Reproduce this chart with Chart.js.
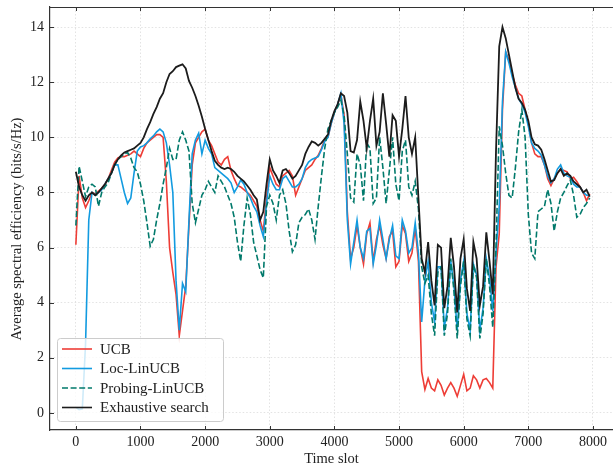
<!DOCTYPE html>
<html>
<head>
<meta charset="utf-8">
<script src="https://cdn.jsdelivr.net/npm/chart.js@4.4.1/dist/chart.umd.min.js"></script>
<style>
  html, body { margin: 0; padding: 0; background: #fff; overflow: hidden; }
  canvas { display: block; }
</style>
</head>
<body>
<canvas id="se-chart" width="613" height="469"></canvas>
<script>
// time slots sampled every 50 slots
const timeSlots = Array.from({ length: 160 }, (_, i) => i * 50);

const xTicks = [0, 1000, 2000, 3000, 4000, 5000, 6000, 7000, 8000];
const yTicks = [0, 2, 4, 6, 8, 10, 12, 14];

const ucb = [
    6.1, 8.6, 7.8, 7.45, 7.7, 8.0, 7.95, 8.05, 8.15, 8.3,
    8.5, 8.8, 9.1, 9.25, 9.3, 9.3, 9.35, 9.4, 9.5, 9.4,
    9.3, 9.6, 9.8, 9.9, 10.0, 10.1, 10.1, 10.0, 8.4, 6.0,
    5.1, 4.3, 2.8, 3.7, 4.6, 6.8, 9.0, 9.8, 10.0, 10.2,
    10.3, 9.9, 9.7, 9.4, 9.1, 9.0, 9.2, 9.3, 8.8, 8.5,
    8.25, 8.2, 8.1, 8.0, 7.9, 7.7, 7.5, 7.0, 6.6, 7.8,
    8.9, 8.6, 8.3, 8.2, 8.6, 8.7, 8.8, 8.6, 7.9, 8.2,
    8.5, 8.8, 8.9, 9.0, 9.2, 9.35, 9.6, 9.9, 10.0, 10.5,
    10.9, 11.2, 11.55, 10.8, 7.3, 5.6, 6.0, 6.8, 6.0, 5.4,
    6.5, 6.9, 5.5, 6.3, 6.8, 6.1, 5.6, 6.4, 6.6, 5.3,
    5.5, 6.8, 6.5, 5.5, 5.8, 6.7, 5.5, 1.5, 0.85, 1.25,
    0.9, 0.8, 1.2, 1.0, 0.65, 0.9, 1.1, 0.9, 0.6, 1.0,
    1.4, 0.8, 0.9, 1.35, 1.2, 0.9, 1.2, 1.25, 1.1, 0.9,
    5.3, 6.5, 11.0, 13.1, 12.8, 12.3, 11.9, 11.6, 11.5, 11.0,
    10.5, 9.8, 9.4, 9.3, 9.3, 9.0, 8.5, 8.25, 8.5, 8.7,
    8.85, 8.8, 8.75, 8.5, 8.55, 8.4, 8.2, 8.0, 7.7, 7.95
];

const locLinUcb = [
    0.2, 0.12, 0.15, 2.5, 7.0, 8.0, 7.9, 8.0, 8.1, 8.3,
    8.5, 8.7, 9.0, 9.0, 8.5, 8.0, 7.6, 7.8, 8.7, 9.5,
    9.65, 9.7, 9.8, 9.95, 10.05, 10.2, 10.3, 10.2, 9.8, 9.0,
    8.0, 4.8, 3.0, 4.7, 4.4, 7.0, 9.4, 9.9, 10.15, 9.4,
    9.9, 9.6, 9.4, 8.9, 8.8, 8.7, 8.6, 8.5, 8.35, 8.0,
    8.2, 8.45, 8.3, 8.0, 7.8, 7.5, 7.3, 6.8, 6.4, 7.6,
    8.6, 8.3, 8.1, 8.1, 8.5, 8.6, 8.4, 8.2, 8.2, 8.3,
    8.5, 8.9, 9.1, 9.2, 9.25, 9.3, 9.55, 9.85, 10.0, 10.5,
    10.9, 11.2, 11.6, 10.5, 7.0, 5.4, 6.2, 7.0, 6.0, 5.6,
    6.6, 6.7, 5.4, 6.1, 7.0, 6.3, 5.6, 6.3, 6.8, 5.7,
    5.6, 7.0, 6.6, 5.8, 6.0, 6.9, 5.8, 3.3, 4.8, 5.5,
    4.0, 3.3, 5.3, 5.3, 3.1, 3.8, 5.5, 4.6, 3.0, 4.8,
    5.5, 3.6, 3.0, 5.4, 5.0, 3.0, 3.8, 5.6, 4.9, 3.7,
    5.8, 7.5, 11.3, 13.1, 12.7, 12.2, 11.8, 11.4, 11.2, 10.9,
    10.4, 9.8, 9.6, 9.5, 9.35, 9.0, 8.6, 8.35, 8.5, 8.85,
    9.0, 8.7, 8.6, 8.55, 8.3, 8.2, 8.2, 8.0, 7.9, 7.9
];

const probingLinUcb = [
    6.8, 8.95, 8.4, 7.85, 8.2, 8.3, 8.2, 7.5, 8.0, 8.2,
    8.36, 8.7, 9.0, 9.2, 9.3, 9.4, 9.45, 9.25, 8.9, 8.75,
    8.3, 7.7, 6.9, 6.05, 6.3, 7.0, 7.6, 8.3, 8.9, 9.6,
    9.2, 9.2, 9.9, 10.2, 9.9, 9.5, 7.6, 6.9, 7.4, 7.9,
    8.1, 8.4, 8.2, 8.0, 8.6, 8.4, 8.2, 7.9, 7.6, 7.1,
    6.2, 5.5, 6.8, 7.8, 7.2, 6.2, 5.7, 5.2, 4.9, 7.5,
    7.9, 7.6, 7.0, 7.9, 8.1, 7.6, 6.6, 5.85, 6.1, 6.9,
    7.1, 7.2, 7.4, 7.0, 6.3, 7.5, 8.6, 9.6, 10.3, 10.6,
    10.9, 11.1, 11.35, 10.8, 9.4, 7.8, 7.65, 9.4, 9.0, 7.7,
    9.8, 9.6, 7.6, 7.8, 10.0, 8.9, 7.6, 8.8, 10.0, 8.3,
    7.7, 9.5, 9.9, 8.2, 7.9, 8.4, 7.4, 5.3, 4.7, 5.0,
    3.6, 2.8, 5.1, 5.3, 2.8, 3.6, 5.6, 4.4, 2.7, 4.6,
    5.5, 3.4, 2.8, 5.4, 4.9, 2.7, 3.6, 5.6, 4.6, 3.1,
    6.0, 10.4, 9.7, 8.7, 7.9, 7.8, 8.9, 10.2, 11.0, 10.0,
    7.2, 5.8, 5.6, 7.3, 7.4, 7.5, 8.1, 7.6, 6.6, 7.3,
    7.8, 8.0, 8.25, 8.45, 7.9, 7.1, 7.2, 7.45, 7.6, 7.8
];

const exhaustive = [
    8.75, 8.2, 7.9, 7.7, 7.9, 8.0, 7.9, 8.0, 8.15, 8.3,
    8.5, 8.7, 9.0, 9.2, 9.35, 9.45, 9.5, 9.55, 9.6, 9.7,
    9.8, 10.0, 10.3, 10.55, 10.85, 11.1, 11.4, 11.6, 12.0, 12.3,
    12.4, 12.55, 12.6, 12.65, 12.5, 12.05, 11.8, 11.5, 11.15, 10.75,
    10.3, 9.9, 9.5, 9.15, 9.0, 8.9, 8.85, 8.9, 8.85, 8.75,
    8.6, 8.5, 8.4, 8.25, 8.1, 7.9, 7.75, 7.0, 7.3, 8.3,
    9.2, 8.8, 8.6, 8.35, 8.8, 8.85, 8.7, 8.5, 8.6, 8.8,
    9.0, 9.4, 9.65, 9.85, 9.8, 9.7, 9.8, 9.95, 10.1, 10.6,
    10.95, 11.2, 11.6, 11.5, 10.9, 9.5, 9.45, 9.9, 11.3, 10.6,
    9.6, 10.6, 11.4, 9.7, 10.2, 11.6, 10.5, 9.3, 10.8, 10.6,
    9.3, 10.3, 11.5, 10.0, 9.4, 10.0, 7.8, 5.6, 5.1, 6.2,
    4.8, 3.9, 6.1, 6.0, 3.8, 4.6, 6.35, 5.3, 3.65, 5.6,
    6.3, 4.5, 3.7, 6.2, 5.6, 3.9, 4.6, 6.55, 5.5, 4.3,
    9.5, 13.3, 14.0, 13.6, 13.0, 12.4, 11.8, 11.4, 11.25, 11.0,
    10.6, 10.0, 9.75, 9.7, 9.55, 9.2, 8.8, 8.4, 8.45, 8.7,
    8.85, 8.6, 8.7, 8.6, 8.4, 8.3, 8.2, 8.0, 8.1, 7.85
];

const seriesNames = ['UCB', 'Loc-LinUCB', 'Probing-LinUCB', 'Exhaustive search'];
const seriesColors = ['#ee3d36', '#129be0', '#00796b', '#1c1c1c'];
const seriesDash = [[], [], [6, 2.6], []];
const seriesValues = [ucb, locLinUcb, probingLinUcb, exhaustive];

const yTitle = 'Average spectral efficiency (bits/s/Hz)';
const serif = '"Liberation Serif", "DejaVu Serif", serif';

function toPoints(values) {
    return values.map((v, i) => ({ x: timeSlots[i], y: v }));
}

// top spine, inward ticks, y title, legend box
const framePlugin = {
    id: 'frame',
    afterDatasetsDraw(chart) {
        const { ctx, chartArea: a, scales } = chart;
        ctx.save();
        ctx.strokeStyle = '#333';
        ctx.lineWidth = 1.2;
        ctx.beginPath();
        ctx.moveTo(a.left, a.top + 0.5);
        ctx.lineTo(a.right, a.top + 0.5);
        ctx.stroke();

        ctx.lineWidth = 1;
        ctx.beginPath();
        xTicks.forEach(v => {
            const x = Math.round(scales.x.getPixelForValue(v)) + 0.5;
            ctx.moveTo(x, a.bottom);
            ctx.lineTo(x, a.bottom - 4);
            ctx.moveTo(x, a.top);
            ctx.lineTo(x, a.top + 4);
        });
        yTicks.forEach(v => {
            const y = Math.round(scales.y.getPixelForValue(v)) + 0.5;
            ctx.moveTo(a.left, y);
            ctx.lineTo(a.left + 4, y);
        });
        ctx.stroke();

        // y axis title
        ctx.save();
        ctx.translate(17, 229);
        ctx.rotate(-Math.PI / 2);
        ctx.font = '14.5px ' + serif;
        ctx.fillStyle = '#222';
        ctx.textAlign = 'center';
        ctx.textBaseline = 'middle';
        ctx.fillText(yTitle, 0, 0);
        ctx.restore();

        // legend
        const lx = 57, ly = 338, lw = 166, lh = 83;
        ctx.beginPath();
        ctx.roundRect(lx + 0.5, ly + 0.5, lw, lh, 3);
        ctx.fillStyle = 'rgba(255,255,255,0.8)';
        ctx.fill();
        ctx.strokeStyle = '#cccccc';
        ctx.lineWidth = 1;
        ctx.stroke();

        ctx.font = '15px ' + serif;
        ctx.textBaseline = 'middle';
        seriesNames.forEach((name, i) => {
            const y = ly + 11 + i * 19.5;
            ctx.strokeStyle = seriesColors[i];
            ctx.lineWidth = 1.6;
            ctx.setLineDash(seriesDash[i]);
            ctx.beginPath();
            ctx.moveTo(62, y);
            ctx.lineTo(92, y);
            ctx.stroke();
            ctx.setLineDash([]);
            ctx.fillStyle = '#222';
            ctx.fillText(name, 100, y + 1);
        });
        ctx.restore();
    }
};

const ctx = document.getElementById('se-chart');

new Chart(ctx, {
    type: 'line',
    data: {
        datasets: seriesValues.map((values, i) => ({
            label: seriesNames[i],
            data: toPoints(values),
            borderColor: seriesColors[i],
            borderWidth: i === 3 ? 1.8 : 1.6,
            borderDash: seriesDash[i],
            pointRadius: 0,
            tension: 0,
            order: 3 - i
        }))
    },
    options: {
        responsive: false,
        animation: false,
        devicePixelRatio: 1,
        events: [],
        layout: { padding: { top: 7, left: 0, right: 0, bottom: 0 } },
        plugins: {
            legend: { display: false },
            tooltip: { enabled: false }
        },
        scales: {
            x: {
                type: 'linear',
                min: -400,
                max: 8310,
                afterBuildTicks: scale => { scale.ticks = xTicks.map(v => ({ value: v })); },
                afterFit: scale => {
                    scale.height = 39;
                    scale.paddingLeft = 0;
                    scale.paddingRight = 0;
                },
                grid: { color: '#dcdcdc', lineWidth: 0.8, drawTicks: false },
                border: { display: true, color: '#333', width: 1.2, dash: [1.5, 2] },
                ticks: {
                    padding: 4,
                    color: '#222',
                    maxRotation: 0,
                    autoSkip: false,
                    font: { family: serif, size: 14 },
                    callback: value => String(value)
                },
                title: {
                    display: true,
                    text: 'Time slot',
                    color: '#222',
                    font: { family: serif, size: 14.5 },
                    padding: { top: 0, bottom: 1 }
                }
            },
            y: {
                min: -0.62,
                max: 14.73,
                afterBuildTicks: scale => { scale.ticks = yTicks.map(v => ({ value: v })); },
                afterFit: scale => {
                    scale.width = 50;
                    scale.paddingTop = 0;
                    scale.paddingBottom = 0;
                },
                grid: { color: '#dcdcdc', lineWidth: 0.8, drawTicks: false },
                border: { display: true, color: '#333', width: 1.2, dash: [1.5, 2] },
                ticks: {
                    padding: 6,
                    color: '#222',
                    font: { family: serif, size: 14 }
                }
            }
        }
    },
    plugins: [framePlugin]
});
</script>
</body>
</html>
